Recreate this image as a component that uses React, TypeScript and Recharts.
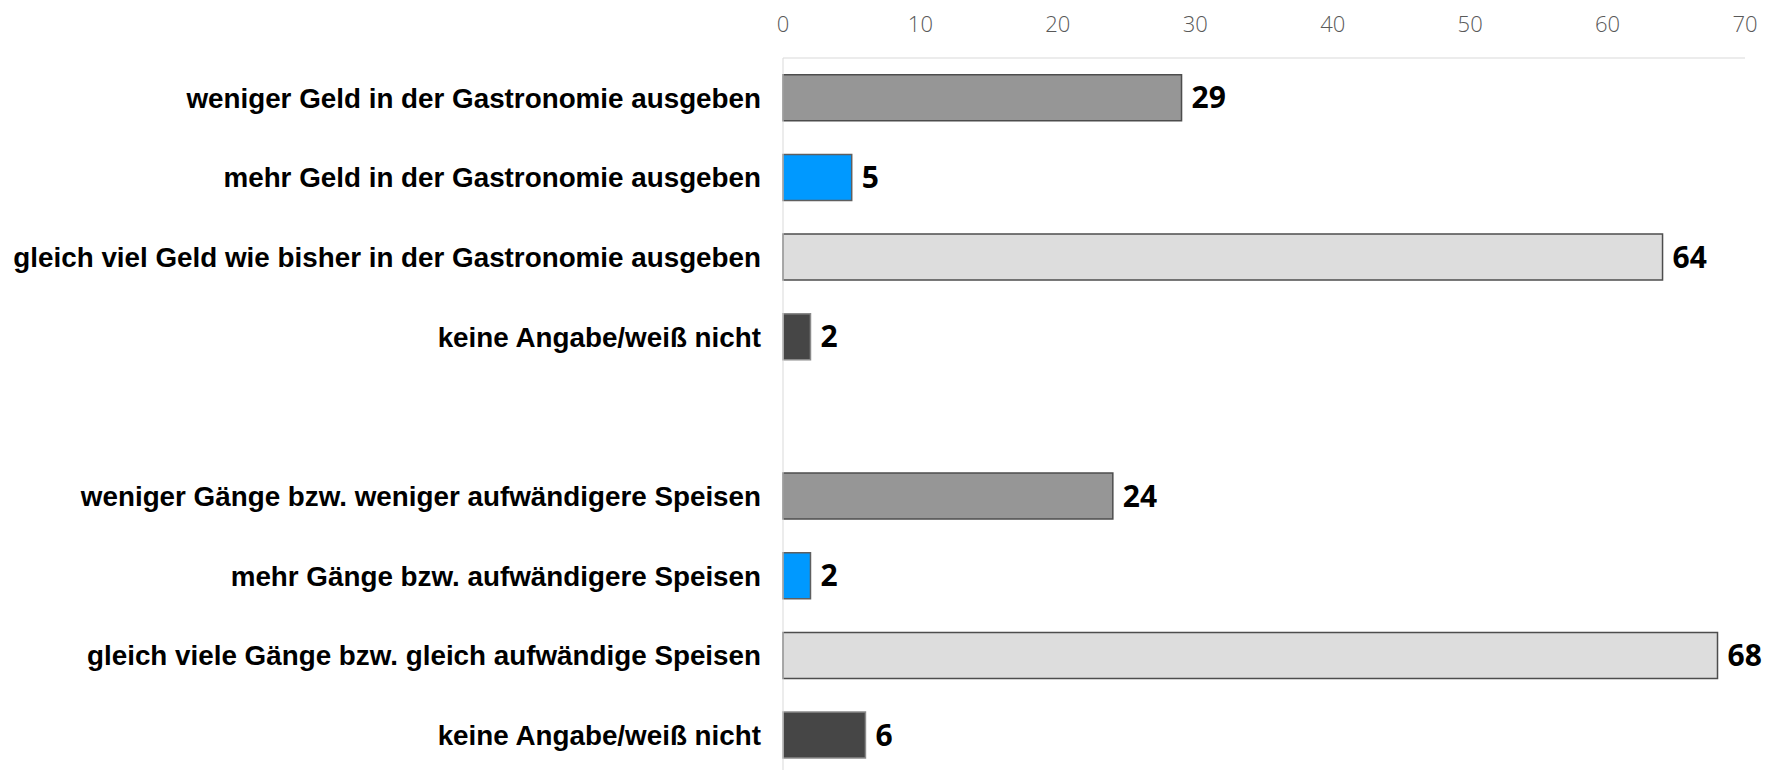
import React from "react";
import { BarChart, Bar, XAxis, YAxis, Cell, LabelList } from "recharts";

const labels = [
  "weniger Geld in der Gastronomie ausgeben",
  "mehr Geld in der Gastronomie ausgeben",
  "gleich viel Geld wie bisher in der Gastronomie ausgeben",
  "keine Angabe/weiß nicht",
  "",
  "weniger Gänge bzw. weniger aufwändigere Speisen",
  "mehr Gänge bzw. aufwändigere Speisen",
  "gleich viele Gänge bzw. gleich aufwändige Speisen",
  "keine Angabe/weiß nicht",
];
const values: (number | null)[] = [29, 5, 64, 2, null, 24, 2, 68, 6];
const xTicks = [0, 10, 20, 30, 40, 50, 60, 70];

const fills = ["#969696", "#0099ff", "#dddddd", "#464646"];
const strokes = ["#4d4d4d", "#5f5f5f", "#4d4d4d", "#8a8a8a"];

const data = labels.map((label, i) => ({ id: i, label, value: values[i] }));

const LABEL_FONT = "'Liberation Sans', Arial, sans-serif";
const VALUE_FONT = "'Open Sans', 'DejaVu Sans', sans-serif";

export default function App() {
  return (
    <div style={{ position: "absolute", left: 0, top: 0, width: 1775, height: 770, overflow: "hidden", background: "#fff" }}>
      <BarChart
        width={1775}
        height={775}
        data={data}
        layout="vertical"
        margin={{ top: 18, right: 30, bottom: 0, left: 0 }}
        barCategoryGap="21%"
      >
        <XAxis
          type="number"
          orientation="top"
          domain={[0, 70]}
          ticks={xTicks}
          height={40}
          tickLine={false}
          tickMargin={20}
          axisLine={{ stroke: "#d9d9d9" }}
          tick={{ fill: "#595959", fontSize: 22, fontFamily: VALUE_FONT, fontWeight: 300 }}
        />
        <YAxis
          type="category"
          dataKey="id"
          width={783}
          tickLine={false}
          tickMargin={16}
          interval={0}
          axisLine={{ stroke: "#d9d9d9" }}
          tickFormatter={(v: number) => labels[v]}
          tick={{ fill: "#000", fontSize: 27.8, fontWeight: 700, fontFamily: LABEL_FONT }}
        />
        <Bar dataKey="value" isAnimationActive={false} strokeWidth={1.5}>
          {data.map((d, i) => (
            <Cell
              key={i}
              fill={fills[(i > 4 ? i - 5 : i) % 4]}
              stroke={strokes[(i > 4 ? i - 5 : i) % 4]}
            />
          ))}
          <LabelList
            dataKey="value"
            position="right"
            offset={10}
            formatter={(v: any) => (v == null ? "" : v)}
            style={{ fill: "#000", fontSize: 30, fontWeight: 700, fontFamily: VALUE_FONT }}
          />
        </Bar>
      </BarChart>
    </div>
  );
}
